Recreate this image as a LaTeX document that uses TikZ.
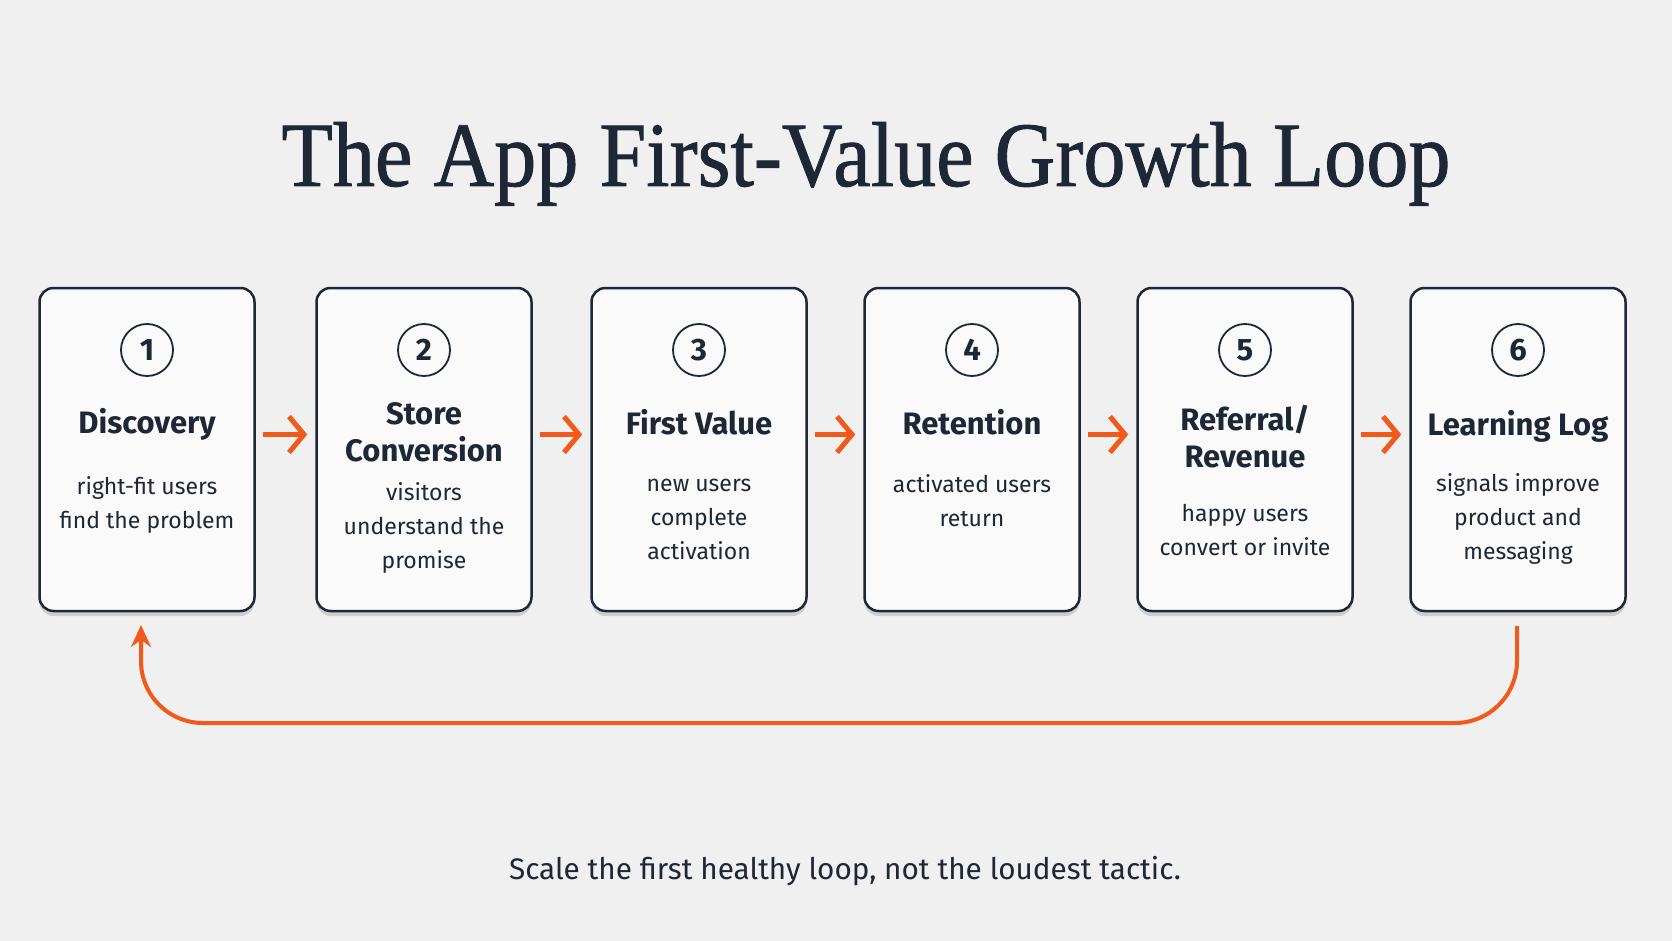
\documentclass[tikz,border=0pt]{standalone}
\usepackage{fontspec}
\setmainfont{Liberation Serif}
\newfontfamily\titlefont[FakeBold=1]{Liberation Serif}
\newfontfamily\boxfont{Fira Sans}
\usetikzlibrary{arrows.meta,shadows,calc}
\definecolor{bg}{HTML}{F0F0F0}
\definecolor{ink}{HTML}{1E2735}
\definecolor{accent}{HTML}{F25A1C}
\definecolor{card}{HTML}{FAFAFA}
\tikzset{
  cardbox/.style={draw=ink, line width=2.5pt, fill=card, rounded corners=14pt,
    minimum width=215pt, minimum height=323pt, inner sep=0pt,
    drop shadow={shadow xshift=0pt, shadow yshift=-5pt, opacity=0.14, fill=black}},
  numbox/.style={circle, draw=ink, line width=1.8pt, minimum size=52pt, inner sep=0pt,
    font=\boxfont\bfseries\fontsize{31}{34}\selectfont, text=ink},
  ttlbox/.style={anchor=base, align=center, text=ink, inner sep=0pt,
    font=\boxfont\bfseries\fontsize{31}{37}\selectfont},
  descbox/.style={anchor=base, align=center, text=ink, inner sep=0pt,
    font=\boxfont\fontsize{23}{34}\selectfont},
  flow/.style={draw=accent, line width=5pt, -{Straight Barb[length=15pt,width=36pt]}},
  backloop/.style={draw=accent, line width=4pt, rounded corners=62pt, -{Stealth[length=22pt,width=20pt]}}
}
\begin{document}
\begin{tikzpicture}[x=1pt,y=-1pt]
\fill[bg] (0,0) rectangle (1672,941);
\useasboundingbox (0,0) rectangle (1672,941);

\node[anchor=base, text=ink, inner sep=0pt] (title) at (866,186) {\titlefont\fontsize{92}{100}\selectfont\scalebox{0.915}[1]{The App First-Value Growth Loop}};

\node[cardbox] (c1) at (147,449.5) {};
\node[cardbox] (c2) at (424,449.5) {};
\node[cardbox] (c3) at (699,449.5) {};
\node[cardbox] (c4) at (972,449.5) {};
\node[cardbox] (c5) at (1245,449.5) {};
\node[cardbox] (c6) at (1518,449.5) {};

\node[numbox] (n1) at (147,350) {1};
\node[numbox] (n2) at (424,350) {2};
\node[numbox] (n3) at (699,350) {3};
\node[numbox] (n4) at (972,350) {4};
\node[numbox] (n5) at (1245,350) {5};
\node[numbox] (n6) at (1518,350) {6};

\node[ttlbox] (t1) at (147,433) {Discovery};
\node[ttlbox] (t2) at (424,461) {Store\\Conversion};
\node[ttlbox] (t3) at (699,434) {First Value};
\node[ttlbox] (t4) at (972,434) {Retention};
\node[ttlbox] (t5) at (1245,467) {Referral/\\Revenue};
\node[ttlbox] (t6) at (1518,435) {Learning Log};

\node[descbox] (d1) at (147,528) {right-fit users\\find the problem};
\node[descbox] (d2) at (424,568) {visitors\\understand the\\promise};
\node[descbox] (d3) at (699,559) {new users\\complete\\activation};
\node[descbox] (d4) at (972,526) {activated users\\return};
\node[descbox] (d5) at (1245,555) {happy users\\convert or invite};
\node[descbox] (d6) at (1518,559) {signals improve\\product and\\messaging};

\draw[flow, shorten <=7pt, shorten >=8pt] ($(c1.east)+(0,-15)$) -- ($(c2.west)+(0,-15)$);
\draw[flow, shorten <=7pt, shorten >=8pt] ($(c2.east)+(0,-15)$) -- ($(c3.west)+(0,-15)$);
\draw[flow, shorten <=7pt, shorten >=8pt] ($(c3.east)+(0,-15)$) -- ($(c4.west)+(0,-15)$);
\draw[flow, shorten <=7pt, shorten >=8pt] ($(c4.east)+(0,-15)$) -- ($(c5.west)+(0,-15)$);
\draw[flow, shorten <=7pt, shorten >=8pt] ($(c5.east)+(0,-15)$) -- ($(c6.west)+(0,-15)$);

\coordinate (ls) at (1517,626);
\coordinate (le) at (141,625);
\draw[backloop] (ls) -- (1517,723) -- (141,723) -- (le);

\node[text=ink, font=\boxfont\fontsize{29.7}{32}\selectfont, inner sep=0pt] (foot) at (845,871) {Scale the first healthy loop, not the loudest tactic.};
\end{tikzpicture}
\end{document}
